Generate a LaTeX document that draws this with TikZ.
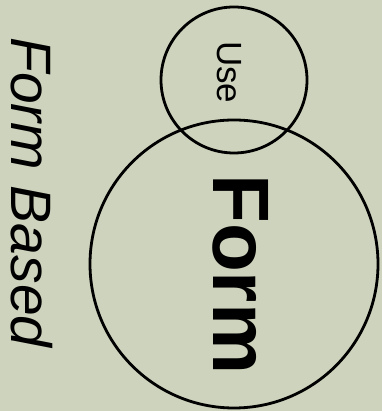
\documentclass[tikz,border=0pt]{standalone}
\usepackage{fontspec}
\setmainfont{Liberation Sans}
\definecolor{sage}{RGB}{205,211,188}
\begin{document}
\begin{tikzpicture}[x=1pt,y=1pt,
  ring/.style={circle,draw=black,line width=2.8pt,inner sep=0pt},
  vtext/.style={rotate=-90,anchor=base west,inner sep=0pt,text=black}]
\fill[sage] (0,0) rectangle (382,411);
\useasboundingbox (0,0) rectangle (382,411);
\node[ring,minimum size=288pt] (big) at (234,147) {};
\node[ring,minimum size=146pt] (small) at (234,331) {};
\node[vtext,font=\fontsize{57}{60}\selectfont\itshape] (title) at (12,374) {Form Based};
\node[vtext,font=\fontsize{35}{38}\selectfont] (use) at (217,370) {Use};
\node[vtext,font=\fontsize{80}{84}\selectfont\bfseries] (form) at (213,237) {Form};
\end{tikzpicture}
\end{document}
